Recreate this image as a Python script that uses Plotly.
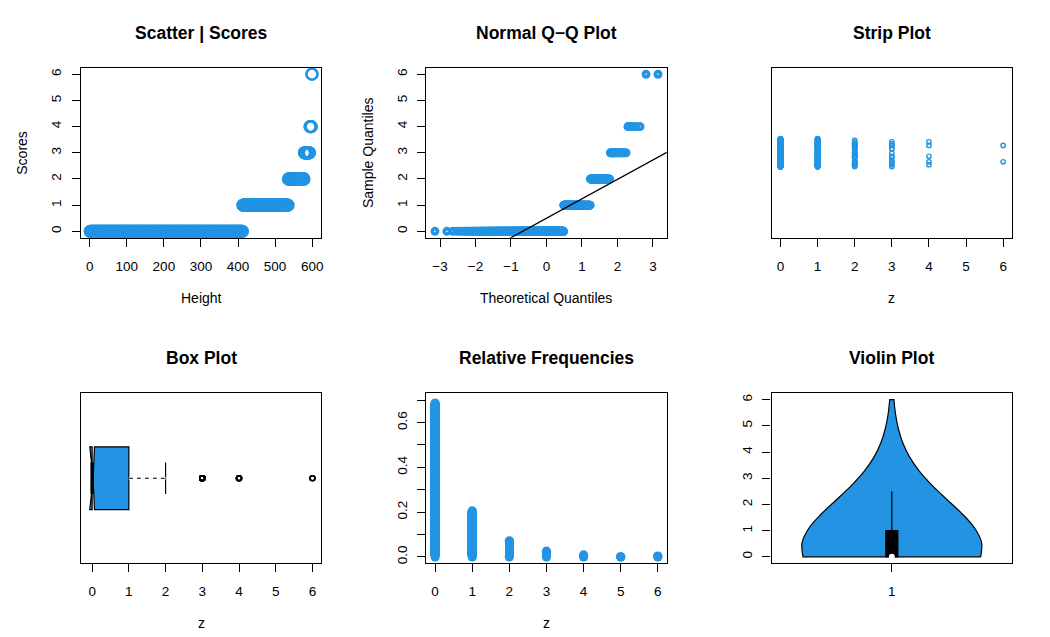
import numpy as np
import plotly.graph_objects as go
from statistics import NormalDist

# score values and how many times each one occurs (600 obs.)
SCORES = [0, 1, 2, 3, 4, 5, 6]
COUNTS = [412, 123, 43, 15, 5, 0, 2]

SCORE_TICKS = [0, 1, 2, 3, 4, 5, 6]
HEIGHT_TICKS = [0, 100, 200, 300, 400, 500, 600]
QQ_TICKS = [-3, -2, -1, 0, 1, 2, 3]
FREQ_TICKS = [0.0, 0.1, 0.2, 0.3, 0.4, 0.5, 0.6, 0.7]
FREQ_LABELS = ['0.0', '', '0.2', '', '0.4', '', '0.6', '']

BLUE = '#2294E3'
FONT = 'Liberation Sans, Arial, sans-serif'
W, H = 1050, 637
OFF = 8  # page body margin

z = np.repeat(SCORES, COUNTS)
n = len(z)
height = np.arange(1, n + 1)
freq = np.array(COUNTS) / n

# normal quantiles (ppoints) and qqline through the quartiles
nd = NormalDist()
theo = np.array([nd.inv_cdf((i - 0.5) / n) for i in range(1, n + 1)])
q1, med, q3 = np.percentile(z, [25, 50, 75])
slope = (q3 - q1) / (nd.inv_cdf(0.75) - nd.inv_cdf(0.25))
intercept = q1 - slope * nd.inv_cdf(0.25)
iqr = q3 - q1
upper_whisk = z[z <= q3 + 1.5 * iqr].max()
vio_upper = min(q3 + 1.5 * iqr, z.max())
vio_lower = max(q1 - 1.5 * iqr, z.min())

# panel boxes in page pixels (left, right, top, bottom)
cols = [(81, 322), (427, 668), (773, 1014)]
rows = [(68, 238), (394, 564)]


def px(x):
    return (x - OFF) / W


def py(y):
    return 1 - (y - OFF) / H


def dom(c, r):
    x0, x1 = cols[c]
    y0, y1 = rows[r]
    return [px(x0), px(x1)], [py(y1), py(y0)]


fig = go.Figure()

axis_common = dict(showline=True, mirror=True, linecolor='black', linewidth=1.2,
                   showgrid=False, zeroline=False, ticks='outside', ticklen=8,
                   tickwidth=1.2, tickcolor='black',
                   tickfont=dict(family=FONT, size=13.5, color='black'))

panels = {}
k = 0
for r in range(2):
    for c in range(3):
        k += 1
        xd, yd = dom(c, r)
        sfx = '' if k == 1 else str(k)
        fig.layout['xaxis' + sfx] = dict(domain=xd, anchor='y' + sfx, ticklabelstandoff=8,
                                         **axis_common)
        fig.layout['yaxis' + sfx] = dict(domain=yd, anchor='x' + sfx, ticklabelstandoff=5,
                                         **axis_common)
        panels[k] = ('x' + sfx, 'y' + sfx)

# 1. scatter
xa, ya = panels[1]
fig.add_trace(go.Scatter(x=height, y=z, mode='markers', xaxis=xa, yaxis=ya,
                         marker=dict(symbol='circle-open', size=11, color=BLUE,
                                     line=dict(width=2.2))))
fig.update_layout(xaxis=dict(range=[-24, 625], tickvals=HEIGHT_TICKS),
                  yaxis=dict(range=[-0.24, 6.24], tickvals=SCORE_TICKS, tickangle=-90))

# 2. normal Q-Q
xa, ya = panels[2]
fig.add_trace(go.Scatter(x=theo, y=z, mode='markers', xaxis=xa, yaxis=ya,
                         marker=dict(symbol='circle-open', size=5.3, color=BLUE,
                                     line=dict(width=3.7))))
qx = np.array([-3.6, 3.6])
fig.add_trace(go.Scatter(x=qx, y=intercept + slope * qx, mode='lines', xaxis=xa, yaxis=ya,
                         line=dict(color='black', width=1.3)))
fig.update_layout(xaxis2=dict(range=[-3.39, 3.39], tickvals=QQ_TICKS),
                  yaxis2=dict(range=[-0.24, 6.24], tickvals=SCORE_TICKS, tickangle=-90))

# 3. strip plot (jitter from box traces, boxes hidden), one trace per score
xa, ya = panels[3]
for s in SCORES:
    zs = z[z == s]
    if len(zs) == 0:
        continue
    fig.add_trace(go.Box(x=zs, y0=1, orientation='h', xaxis=xa, yaxis=ya, boxpoints='all',
                         jitter=1, pointpos=0, width=0.2,
                         fillcolor='rgba(0,0,0,0)', line=dict(color='rgba(0,0,0,0)', width=0),
                         marker=dict(symbol='circle-open', size=4.3, color=BLUE,
                                     line=dict(width=1.4))))
fig.update_layout(xaxis3=dict(range=[-0.24, 6.24], tickvals=SCORE_TICKS),
                  yaxis3=dict(range=[0.4, 1.6], showticklabels=False, ticks=''))

# 4. notched box plot
xa, ya = panels[4]
bw = 0.37
fig.add_trace(go.Box(x=z, y0=1, orientation='h', xaxis=xa, yaxis=ya, notched=True,
                     notchwidth=0.5, width=bw, whiskerwidth=0.5, boxpoints='outliers',
                     fillcolor=BLUE, line=dict(color='black', width=1.2),
                     marker=dict(symbol='circle-open', size=5, color='black',
                                 line=dict(width=1.6))))
fig.add_trace(go.Scatter(x=[q3, upper_whisk], y=[1, 1], mode='lines', xaxis=xa, yaxis=ya,
                         line=dict(color='white', width=3)))
fig.add_trace(go.Scatter(x=[q3, upper_whisk], y=[1, 1], mode='lines', xaxis=xa, yaxis=ya,
                         line=dict(color='black', width=1.2, dash='4px,4px')))
fig.add_trace(go.Scatter(x=[med, med], y=[1 - bw / 4, 1 + bw / 4], mode='lines',
                         xaxis=xa, yaxis=ya, line=dict(color='black', width=3.5)))
fig.update_layout(xaxis4=dict(range=[-0.307, 6.243], tickvals=SCORE_TICKS),
                  yaxis4=dict(range=[0.5, 1.5], showticklabels=False, ticks=''))

# 5. relative frequencies (thick lines with round ends)
xa, ya = panels[5]
fig.add_trace(go.Bar(x=SCORES, y=freq, width=0.25, xaxis=xa, yaxis=ya,
                     marker=dict(color=BLUE, line=dict(width=0))))
fig.add_trace(go.Scatter(x=SCORES, y=freq, mode='markers', xaxis=xa, yaxis=ya,
                         marker=dict(size=9.3, color=BLUE, line=dict(width=0))))
fig.add_trace(go.Scatter(x=SCORES, y=freq * 0, mode='markers', xaxis=xa, yaxis=ya,
                         marker=dict(size=9.3, color=BLUE, line=dict(width=0))))
fig.update_layout(xaxis5=dict(range=[-0.24, 6.24], tickvals=SCORE_TICKS),
                  yaxis5=dict(range=[-0.028, 0.73], tickvals=FREQ_TICKS,
                              ticktext=FREQ_LABELS, tickangle=-90))

# 6. violin
xa, ya = panels[6]
fig.add_trace(go.Violin(y=z, x0=1, xaxis=xa, yaxis=ya, width=0.746, bandwidth=1.7,
                        spanmode='hard', points=False, fillcolor=BLUE,
                        line=dict(color='black', width=1.2), opacity=1))
fig.add_trace(go.Box(x=[1], q1=[q1], median=[med], q3=[q3], lowerfence=[vio_lower],
                     upperfence=[vio_upper], width=0.05, whiskerwidth=0,
                     xaxis=xa, yaxis=ya, fillcolor='black',
                     line=dict(color='black', width=1.2)))
fig.add_trace(go.Scatter(x=[1], y=[med], mode='markers', xaxis=xa, yaxis=ya,
                         marker=dict(size=6, color='white', line=dict(width=0))))
fig.update_layout(xaxis6=dict(range=[0.5, 1.5], tickvals=[1]),
                  yaxis6=dict(range=[-0.24, 6.24], tickvals=SCORE_TICKS, tickangle=-90))

# titles and axis labels as annotations
titles = ['Scatter | Scores', 'Normal Q\u2212Q Plot', 'Strip Plot',
          'Box Plot', 'Relative Frequencies', 'Violin Plot']
xlabels = ['Height', 'Theoretical Quantiles', 'z', 'z', 'z', '']
ylabels = ['Scores', 'Sample Quantiles', '', '', '', '']
ann = []
k = 0
for r in range(2):
    for c in range(3):
        x0, x1 = cols[c]
        y0, y1 = rows[r]
        xc = px((x0 + x1) / 2)
        ann.append(dict(text='<b>%s</b>' % titles[k], x=xc, y=py(y0 - 35),
                        font=dict(family=FONT, size=17.5, color='black')))
        if xlabels[k]:
            ann.append(dict(text=xlabels[k], x=xc, y=py(y1 + 60),
                            font=dict(family=FONT, size=14, color='black')))
        if ylabels[k]:
            ann.append(dict(text=ylabels[k], x=px(x0 - 59), y=py((y0 + y1) / 2),
                            textangle=-90, font=dict(family=FONT, size=14, color='black')))
        k += 1
for a in ann:
    a.update(xref='paper', yref='paper', showarrow=False, xanchor='center', yanchor='middle')

fig.update_layout(width=W, height=H, margin=dict(l=0, r=0, t=0, b=0),
                  plot_bgcolor='white', paper_bgcolor='white', showlegend=False,
                  annotations=ann, font=dict(family=FONT, color='black'),
                  violinmode='overlay', boxmode='overlay', bargap=0)

fig.write_html('out.html')
